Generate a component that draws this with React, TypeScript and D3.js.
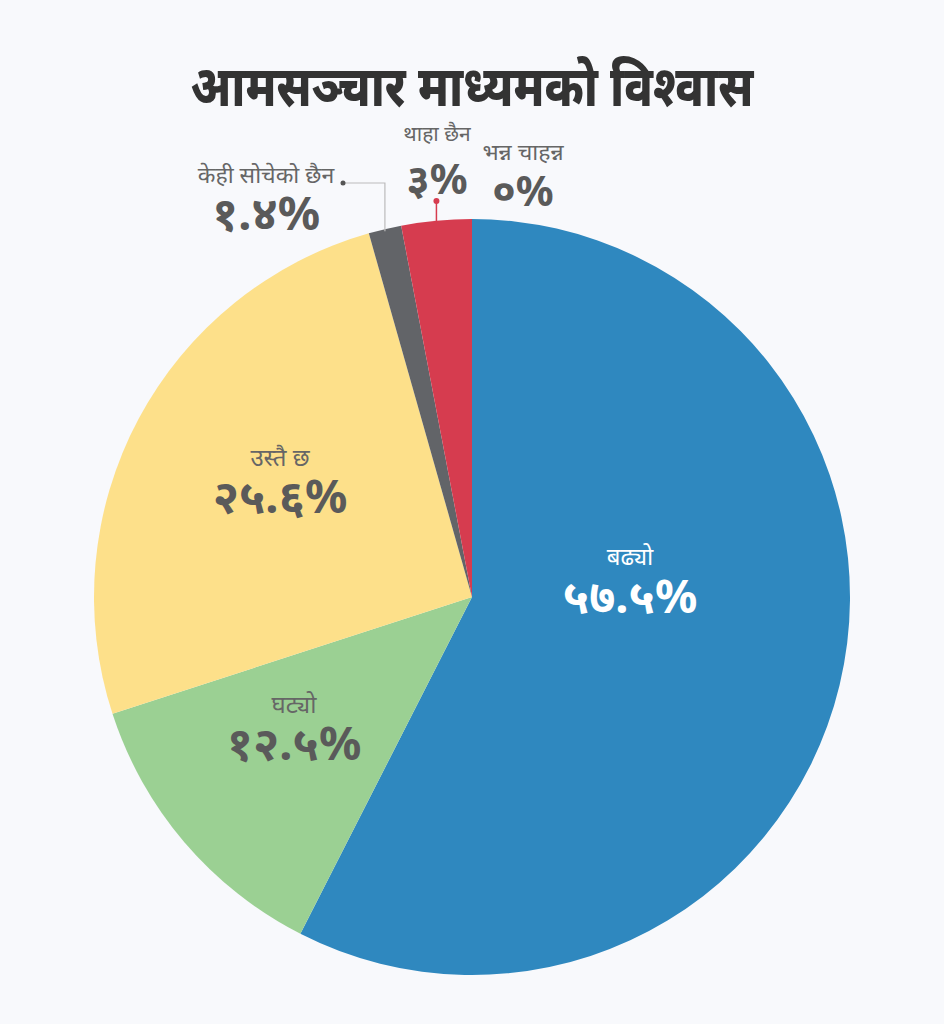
import React from "react";
import * as d3 from "d3";

const categories = ["बढ्यो", "घट्यो", "उस्तै छ", "केही सोचेको छैन", "थाहा छैन", "भन्न चाहन्न"];
const values = [57.5, 12.5, 25.6, 1.4, 3, 0];
const valueLabels = ["५७.५%", "१२.५%", "२५.६%", "१.४%", "३%", "०%"];
const colors = ["#2F88BF", "#9BD093", "#FDE08A", "#626468", "#D63C4F", "#999999"];
const title = "आमसञ्चार माध्यमको विश्वास";

const W = 944;
const H = 1024;
const cx = 472;
const cy = 597;
const R = 378;
const FONT = "'Noto Sans', 'Noto Sans Devanagari', sans-serif";

const labelLayout = [
  { x: 630, y: 565, vy: 613, cs: 24, vs: 47, fill: "#FFFFFF", vfill: "#FFFFFF" },
  { x: 294, y: 713, vy: 760, cs: 24, vs: 47, fill: "#666666", vfill: "#5A5A5A" },
  { x: 280, y: 466, vy: 513, cs: 24, vs: 47, fill: "#666666", vfill: "#5A5A5A" },
  { x: 266, y: 183, vy: 230, cs: 23, vs: 47, fill: "#666666", vfill: "#5A5A5A" },
  { x: 437, y: 141, vy: 194, cs: 21, vs: 42, fill: "#666666", vfill: "#5A5A5A" },
  { x: 523, y: 160, vy: 206, cs: 23, vs: 42, fill: "#666666", vfill: "#5A5A5A" },
];

export default function App() {
  const pie = d3.pie<number>().sort(null).value((d) => d);
  const arcs = pie(values);
  const arc = d3.arc<d3.PieArcDatum<number>>().innerRadius(0).outerRadius(R);

  const polar = (a: number, r: number) => [cx + r * Math.sin(a), cy - r * Math.cos(a)];

  const g = arcs[3];
  const gMid = (g.startAngle + g.endAngle) / 2;
  const [gx, gy] = polar(gMid, R);
  const rd = arcs[4];
  const rMid = (rd.startAngle + rd.endAngle) / 2;
  const [rx, ry] = polar(rMid, R);

  return (
    <svg width={W} height={H} style={{ display: "block", position: "absolute", left: 0, top: 0 }}>
      <rect width={W} height={H} fill="#F8F9FC" />
      <text
        transform={`translate(${cx},106) scale(0.83,1)`}
        textAnchor="middle"
        fontFamily={FONT}
        fontWeight={800}
        fontSize={56}
        fill="#333333"
      >
        {title}
      </text>
      <g transform={`translate(${cx},${cy})`}>
        {arcs.map((a, i) =>
          a.value > 0 ? <path key={i} d={arc(a) || ""} fill={colors[i]} /> : null
        )}
      </g>
      <polyline
        points={`${343},${183} ${gx},${183} ${gx},${gy + 2}`}
        fill="none"
        stroke="#BBBBBB"
        strokeWidth={1.2}
      />
      <circle cx={343} cy={183} r={2.5} fill="#555" />
      <line x1={rx} y1={201} x2={rx} y2={ry + 2} stroke="#D63C4F" strokeWidth={1.5} />
      <circle cx={rx} cy={201} r={3} fill="#D63C4F" />
      {categories.map((c, i) => {
        const L = labelLayout[i];
        return (
          <g key={c} fontFamily={FONT} textAnchor="middle">
            <text x={L.x} y={L.y} fontSize={L.cs} fill={L.fill}>
              {c}
            </text>
            <text x={L.x} y={L.vy} fontSize={L.vs} fontWeight={700} fill={L.vfill}>
              {valueLabels[i]}
            </text>
          </g>
        );
      })}
    </svg>
  );
}
